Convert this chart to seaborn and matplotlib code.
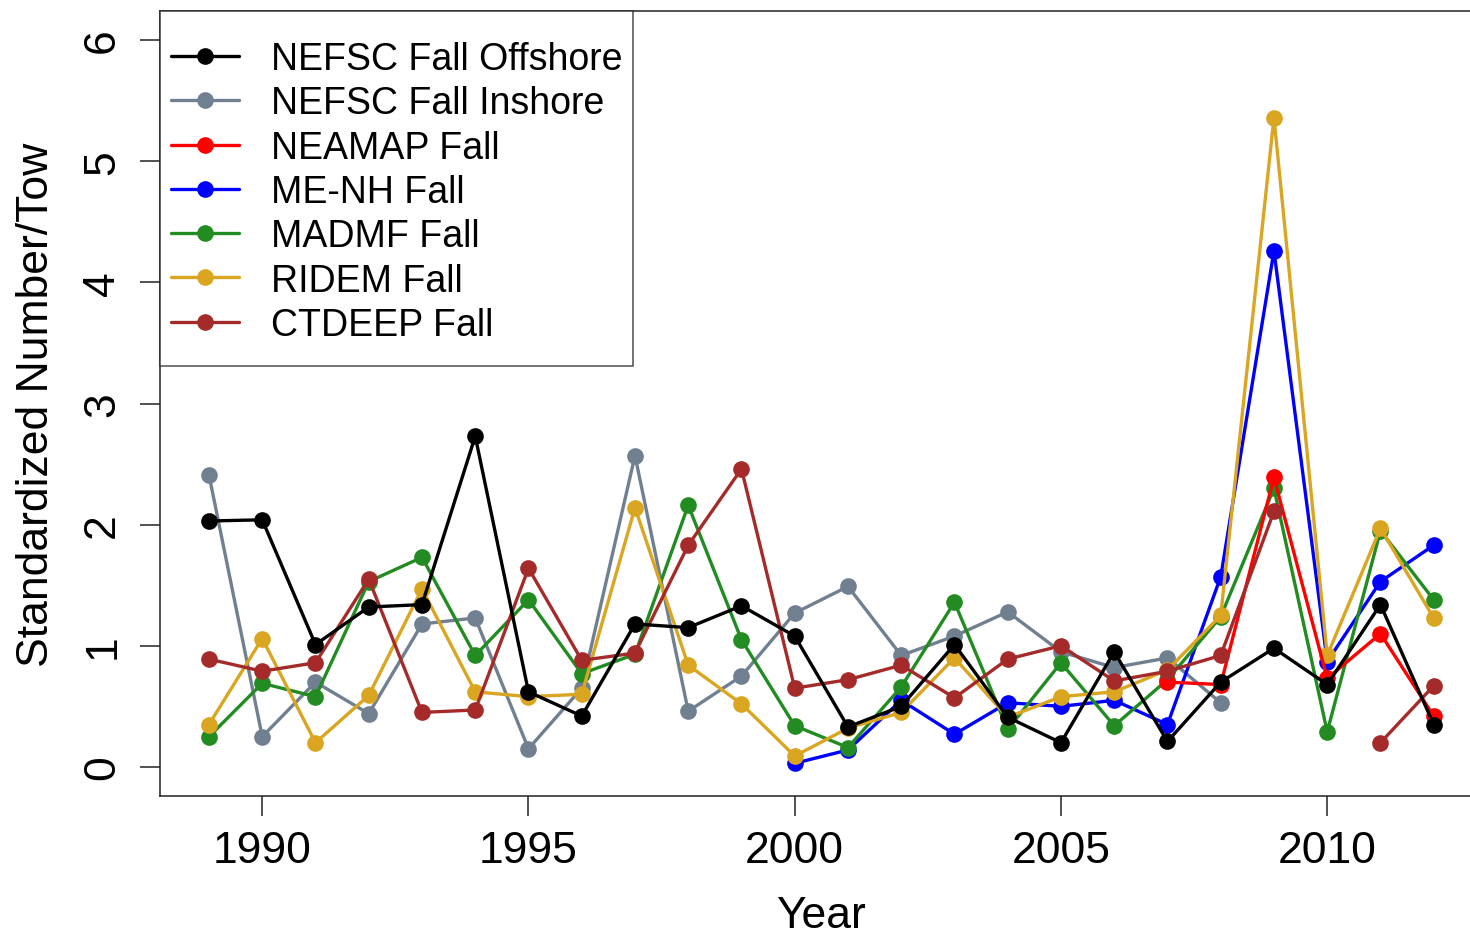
import numpy as np
import pandas as pd
import matplotlib
matplotlib.use("Agg")
import matplotlib.pyplot as plt
from matplotlib.path import Path
import seaborn as sns

years = list(range(1989, 2013))
nan = np.nan

nefsc_offshore = [2.03, 2.04, 1.01, 1.32, 1.34, 2.73, 0.62, 0.42, 1.18, 1.15, 1.33, 1.08,
                  0.33, 0.50, 1.01, 0.41, 0.20, 0.95, 0.21, 0.70, 0.98, 0.68, 1.34, 0.35]
nefsc_inshore = [2.41, 0.25, 0.70, 0.44, 1.18, 1.23, 0.15, 0.65, 2.57, 0.46, 0.75, 1.27,
                 1.49, 0.92, 1.08, 1.28, 0.95, 0.82, 0.90, 0.53, nan, nan, nan, nan]
neamap = [nan] * 18 + [0.70, 0.68, 2.39, 0.73, 1.10, 0.42]
me_nh = [nan] * 11 + [0.03, 0.14, 0.55, 0.27, 0.53, 0.50, 0.55, 0.35, 1.57, 4.26, 0.87, 1.53, 1.83]
madmf = [0.25, 0.69, 0.58, 1.53, 1.73, 0.92, 1.38, 0.77, 0.93, 2.16, 1.05, 0.34,
         0.16, 0.66, 1.36, 0.31, 0.86, 0.34, 0.72, 1.24, 2.30, 0.29, 1.95, 1.38]
ridem = [0.35, 1.06, 0.20, 0.59, 1.47, 0.62, 0.58, 0.60, 2.14, 0.84, 0.52, 0.09,
         0.32, 0.45, 0.90, 0.41, 0.58, 0.62, 0.80, 1.25, 5.36, 0.92, 1.97, 1.23]
ctdeep = [0.89, 0.79, 0.86, 1.55, 0.45, 0.47, 1.64, 0.88, 0.94, 1.83, 2.46, 0.65,
          0.72, 0.84, 0.57, 0.89, 1.00, 0.71, 0.79, 0.92, 2.11, nan, 0.20, 0.67]

series_names = ["NEFSC Fall Offshore", "NEFSC Fall Inshore", "NEAMAP Fall",
                "ME-NH Fall", "MADMF Fall", "RIDEM Fall", "CTDEEP Fall"]
series_values = [nefsc_offshore, nefsc_inshore, neamap, me_nh, madmf, ridem, ctdeep]
series_colors = ["#000000", "#708090", "#FF0000", "#0000FF", "#228B22", "#DAA520", "#A52A2A"]

# long table; a missing year breaks a series into separate segments
rows = []
for name, vals in zip(series_names, series_values):
    seg = 0
    prev_missing = True
    for yr, v in zip(years, vals):
        if np.isnan(v):
            prev_missing = True
            continue
        if prev_missing:
            seg += 1
            prev_missing = False
        rows.append({"Year": yr, "Value": v, "Survey": name, "Segment": f"{name}_{seg}"})
df = pd.DataFrame(rows)

sns.set_theme(style="white")
plt.rcParams["font.family"] = ["Liberation Sans", "DejaVu Sans"]
plt.rcParams["text.color"] = "black"
plt.rcParams["axes.labelcolor"] = "black"

fig = plt.figure(figsize=(14.7, 9.37), dpi=100)
ax_h = 797 - 12
ax = fig.add_axes([160 / 1470, 1 - 797 / 937, 1322.7 / 1470, ax_h / 937])

palette = dict(zip(series_names, series_colors))
draw_order = ["NEFSC Fall Inshore", "ME-NH Fall", "MADMF Fall", "RIDEM Fall",
              "NEAMAP Fall", "CTDEEP Fall", "NEFSC Fall Offshore"]

sns.lineplot(data=df, x="Year", y="Value", hue="Survey", units="Segment",
             estimator=None, hue_order=draw_order, palette=palette, sort=True,
             marker="o", markersize=12, markeredgewidth=0, linewidth=2.4,
             ax=ax, legend=True)

ax.set_xlim(1988.08, 2012.92)
ax.set_ylim(-0.24, 6.24)
ax.set_xticks([1990, 1995, 2000, 2005, 2010])
ax.set_yticks([0, 1, 2, 3, 4, 5, 6])
ax.tick_params(axis="both", which="major", direction="out", length=14.5, width=1.1,
               color="#222222", labelsize=32, labelcolor="black", bottom=True, left=True)
ax.tick_params(axis="x", pad=10)
ax.tick_params(axis="y", pad=12)
for lab in ax.get_yticklabels():
    lab.set_rotation(90)
    lab.set_va("center")
ax.set_xlabel("Year", fontsize=32, labelpad=17)
ax.set_ylabel("Standardized Number/Tow", fontsize=32, labelpad=18)
for sp in ax.spines.values():
    sp.set_color("#222222")
    sp.set_linewidth(1.1)

# legend frame with extra room above and below the entries (pixels)
frame_top_pad = 19
frame_bottom_pad = 12


def tall_box(x0, y0, width, height, mutation_size):
    y_lo = y0 - frame_bottom_pad
    y_hi = y0 + height + frame_top_pad
    verts = [(x0, y_lo), (x0 + width, y_lo), (x0 + width, y_hi), (x0, y_hi), (x0, y_lo)]
    return Path(verts, closed=True)


handles, labels = ax.get_legend_handles_labels()
hmap = dict(zip(labels, handles))
leg = ax.legend([hmap[n] for n in series_names], series_names, loc="upper left",
                bbox_to_anchor=(0, 1 - frame_top_pad / ax_h), borderaxespad=0, fontsize=27,
                frameon=True, fancybox=False, edgecolor="#222222", handlelength=1.8,
                handletextpad=0.85, labelspacing=0.22, borderpad=0.3)
frame = leg.get_frame()
frame.set_linewidth(1.1)
frame.set_boxstyle(tall_box)
for t in leg.get_texts():
    t.set_color("black")

fig.savefig("out.png", dpi=100)
